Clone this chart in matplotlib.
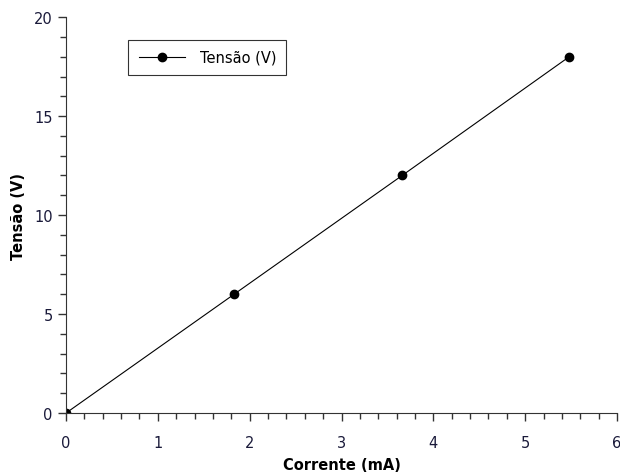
import matplotlib.pyplot as plt
from matplotlib.ticker import MultipleLocator

corrente = [0, 1.83, 3.66, 5.48]
tensao = [0, 6, 12, 18]

fig = plt.figure(figsize=(6.2, 4.77), dpi=100)
ax = fig.add_axes([0.1065, 0.132, 0.8887, 0.830])

ax.plot(corrente, tensao, '-o', color='black', lw=0.8, ms=6, label='Tensão (V)')

ax.set_xlim(0, 6)
ax.set_ylim(0, 20)
ax.xaxis.set_major_locator(MultipleLocator(1))
ax.xaxis.set_minor_locator(MultipleLocator(0.2))
ax.yaxis.set_major_locator(MultipleLocator(5))
ax.yaxis.set_minor_locator(MultipleLocator(1))
for s in ['top', 'right']:
    ax.spines[s].set_visible(False)
ax.spines['left'].set_color('#333333')
ax.spines['bottom'].set_color('#333333')
ax.tick_params(which='major', length=6, width=1, labelsize=10.5, colors='#333333', labelcolor='#1a1a3a')
ax.tick_params(which='minor', length=4, width=1, colors='#333333')
ax.tick_params(axis='x', pad=10)

ax.set_xlabel('Corrente (mA)', fontsize=10.5, fontweight='bold', labelpad=5)
ax.set_ylabel('Tensão (V)', fontsize=10.5, fontweight='bold', labelpad=6)

leg = ax.legend(loc='upper left', bbox_to_anchor=(0.113, 0.943), fancybox=False,
                edgecolor='black', fontsize=10.5, borderpad=0.7, handlelength=3.2,
                handletextpad=1.0, borderaxespad=0)
leg.get_frame().set_linewidth(0.8)

plt.savefig('out.png')
